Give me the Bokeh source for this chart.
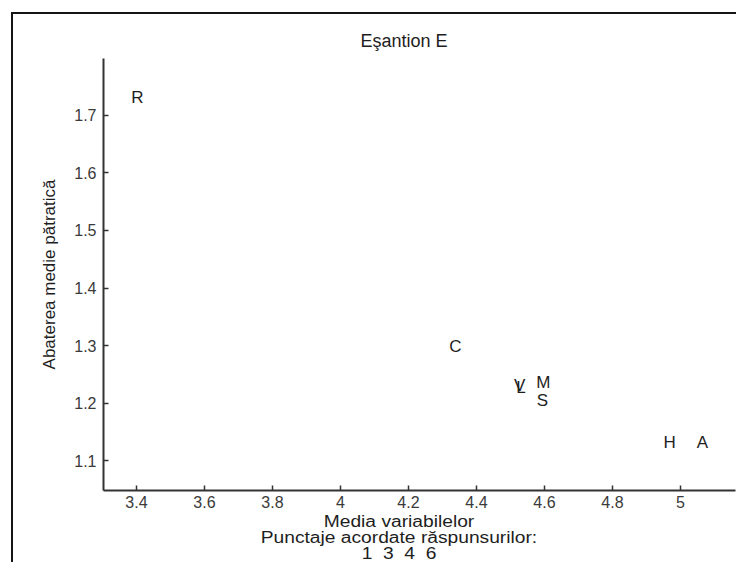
from bokeh.plotting import figure
from bokeh.layouts import column
from bokeh.models import (ColumnDataSource, FixedTicker, Range1d, Div,
                          InlineStyleSheet)
from bokeh.embed import file_html
from bokeh.resources import INLINE
from bokeh.core.properties import value

# ---- data ----
labels = ["R", "C", "V", "L", "M", "S", "H", "A"]
media = [3.403, 4.338, 4.527, 4.531, 4.597, 4.594, 4.968, 5.065]
abatere = [1.731, 1.298, 1.231, 1.227, 1.235, 1.205, 1.132, 1.132]

x_ticks = [3.4, 3.6, 3.8, 4.0, 4.2, 4.4, 4.6, 4.8, 5.0]
x_tick_labels = ["3.4", "3.6", "3.8", "4", "4.2", "4.4", "4.6", "4.8", "5"]
y_ticks = [1.1, 1.2, 1.3, 1.4, 1.5, 1.6, 1.7]
y_tick_labels = ["1.1", "1.2", "1.3", "1.4", "1.5", "1.6", "1.7"]

title_text = "Eşantion E"
x_label_lines = ["Media variabilelor",
                 "Punctaje acordate răspunsurilor:",
                 "1&nbsp;&nbsp;3&nbsp;&nbsp;4&nbsp;&nbsp;6"]
y_label = "Abaterea medie pătratică"

FONT = "Liberation Sans"
INK = "#1e1e1e"
AXIS = "#333333"

p = figure(width=736, height=514, output_backend="svg", toolbar_location=None,
           x_range=Range1d(3.303, 5.162), y_range=Range1d(1.048, 1.799),
           min_border_left=103, min_border_right=1, min_border_top=58,
           min_border_bottom=24, title=title_text)
p.outline_line_color = None
p.grid.visible = False
p.background_fill_color = "white"
p.border_fill_color = "white"

p.title.align = "left"
p.title.offset = 257
p.title.text_font = FONT
p.title.text_font_size = "18px"
p.title.text_font_style = "normal"
p.title.text_color = INK
p.title.standoff = 16

for ax in (p.xaxis[0], p.yaxis[0]):
    ax.axis_line_color = AXIS
    ax.axis_line_width = 2
    ax.major_tick_line_color = AXIS
    ax.major_tick_line_width = 1.5
    ax.major_tick_in = 5
    ax.major_tick_out = 0
    ax.minor_tick_line_color = None
    ax.major_label_text_font = FONT
    ax.major_label_text_font_size = "16px"
    ax.major_label_text_color = "#3a3a3a"
    ax.axis_label_text_font = FONT
    ax.axis_label_text_font_size = "17px"
    ax.axis_label_text_font_style = "normal"
    ax.axis_label_text_color = INK

p.xaxis.ticker = FixedTicker(ticks=x_ticks)
p.xaxis.major_label_overrides = {t: s for t, s in zip(x_ticks, x_tick_labels)}
p.xaxis.major_label_standoff = 5

p.yaxis.ticker = FixedTicker(ticks=y_ticks)
p.yaxis.major_label_overrides = {t: s for t, s in zip(y_ticks, y_tick_labels)}
p.yaxis.major_label_standoff = 7
p.yaxis.axis_label = y_label
p.yaxis.axis_label_standoff = 12

src = ColumnDataSource(dict(x=media, y=abatere, t=labels))
p.text(x="x", y="y", text="t", source=src, text_font=value(FONT),
       text_font_size="17px", text_color=INK, text_align="center",
       text_baseline="middle")

# multi-line x axis caption (as in the original figure)
caption_html = (
    '<div style="width:736px;box-sizing:border-box;padding-left:62px;'
    'margin:0;text-align:center;font-family:\'Liberation Sans\';'
    'font-size:16px;line-height:16px;color:%s;transform:scaleX(1.2);'
    'transform-origin:399px 0;">%s</div>' % (INK, "<br>".join(x_label_lines))
)
caption = Div(text=caption_html, width=736, height=48,
              styles={"overflow": "hidden", "background-color": "white",
                      "margin": "0", "padding": "0"})

# outer frame of the original picture (top and left edges visible)
frame_css = InlineStyleSheet(css="""
:host { position: relative; }
:host::after {
  content: "";
  position: absolute;
  left: 11px; top: 12px;
  width: 723px; height: 548px;
  border-left: 2px solid #151515;
  border-top: 2px solid #151515;
  pointer-events: none;
}
""")

layout = column(p, caption, spacing=0, stylesheets=[frame_css])

open("out.html", "w").write(file_html(layout, INLINE))
